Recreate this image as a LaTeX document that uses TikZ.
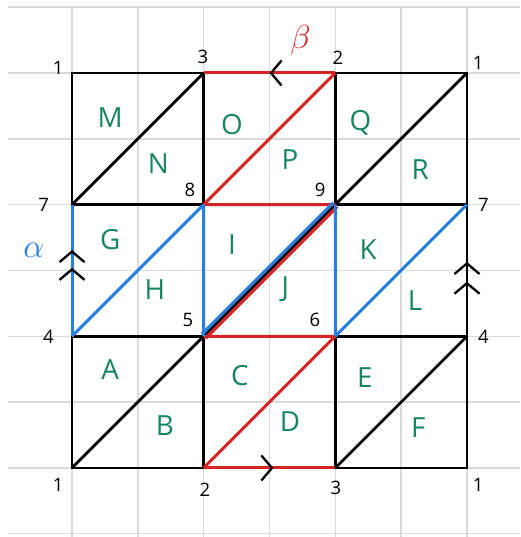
\documentclass[tikz,border=0pt]{standalone}
\usepackage{fontspec}
\setmainfont{Open Sans}
\usetikzlibrary{arrows.meta,decorations.markings}
\definecolor{gridgray}{RGB}{218,218,218}
\definecolor{edgered}{RGB}{214,36,36}
\definecolor{edgeblue}{RGB}{38,126,226}
\definecolor{facegreen}{RGB}{24,134,92}

\begin{document}
\begin{tikzpicture}[
    paper/.style={gridgray, line width=0.6pt},
    edge/.style={line width=1.2pt, black},
    redge/.style={line width=1.3pt, edgered},
    bedge/.style={line width=1.3pt, edgeblue},
    face/.style={font=\large, text=facegreen},
    vlabel/.style={font=\footnotesize},
    chev/.style={postaction={decorate, decoration={markings,
        mark=at position #1 with {\arrow[black]{Straight Barb[length=1.6mm,width=3.8mm,line width=1pt]}}}}},
  ]
    \useasboundingbox (-1.094,-1.049) rectangle (6.808,7.109);
    \fill[white] (-1.094,-1.049) rectangle (6.808,7.109);

    % graph paper
    \foreach \y in {-1,...,7}
      \draw[paper] (-0.97,\y) -- (6.808,\y);
    \foreach \x in {0,...,6}
      \draw[paper] (\x,-1.049) -- (\x,7.0);

    \foreach \i in {0,...,3}
      \foreach \j in {0,...,3}
        \coordinate (v\i\j) at ({2*\i},{2*\j});

    % black squares and diagonals
    \draw[edge] (v00) rectangle (v33);
    \draw[edge] (v10) -- (v13) (v20) -- (v23) (v01) -- (v31) (v02) -- (v32);
    \draw[edge] (v00) -- (v11) (v20) -- (v31) (v02) -- (v13) (v22) -- (v33) (v11) -- (v22);
    \draw[edge, chev=0.415, chev=0.565] (v31) -- (v32);

    % beta
    \draw[redge, chev=0.5] (v23) -- (v13);
    \draw[redge] (v12) -- (v23) (v12) -- (v22) (v11) -- (v21) (v10) -- (v21);
    \draw[redge] ([shift={(0.03,-0.03)}]v11) -- ([shift={(0.03,-0.03)}]v22);
    \draw[redge, chev=0.53] (v10) -- (v20);

    % alpha
    \draw[bedge, chev=0.52, chev=0.655] (v01) -- (v02);
    \draw[bedge] (v01) -- (v12) (v11) -- (v12) (v21) -- (v22) (v21) -- (v32);
    \draw[bedge] ([shift={(-0.03,0.03)}]v11) -- ([shift={(-0.03,0.03)}]v22);

    \node[font=\Large, text=edgered] (beta) at (3.47,6.5) {$\beta$};
    \node[font=\Large, text=edgeblue] (alpha) at (-0.58,3.3) {$\alpha$};

    % vertex numbers
    \node[vlabel] (t1) at (-0.21,6.08) {1};
    \node[vlabel] (t3) at (1.99,6.25) {3};
    \node[vlabel] (t2) at (4.04,6.23) {2};
    \node[vlabel] (t1r) at (6.17,6.16) {1};
    \node[vlabel] (m7) at (-0.43,4.0) {7};
    \node[vlabel] (m8) at (1.79,4.22) {8};
    \node[vlabel] (m9) at (3.77,4.22) {9};
    \node[vlabel] (m7r) at (6.25,4.0) {7};
    \node[vlabel] (m4) at (-0.36,1.99) {4};
    \node[vlabel] (m5) at (1.76,2.25) {5};
    \node[vlabel] (m6) at (3.69,2.25) {6};
    \node[vlabel] (m4r) at (6.25,1.99) {4};
    \node[vlabel] (b1) at (-0.21,-0.26) {1};
    \node[vlabel] (b2) at (2.02,-0.33) {2};
    \node[vlabel] (b3) at (4.01,-0.3) {3};
    \node[vlabel] (b1r) at (6.17,-0.26) {1};

    % triangles
    \node[face] (fM) at (0.58,5.32) {M};
    \node[face] (fN) at (1.31,4.63) {N};
    \node[face] (fO) at (2.43,5.21) {O};
    \node[face] (fP) at (3.31,4.68) {P};
    \node[face] (fQ) at (4.38,5.24) {Q};
    \node[face] (fR) at (5.29,4.53) {R};
    \node[face] (fG) at (0.58,3.47) {G};
    \node[face] (fH) at (1.26,2.71) {H};
    \node[face] (fI) at (2.43,3.40) {I};
    \node[face] (fJ) at (3.24,2.71) {J};
    \node[face] (fK) at (4.50,3.31) {K};
    \node[face] (fL) at (5.21,2.55) {L};
    \node[face] (fA) at (0.58,1.49) {A};
    \node[face] (fB) at (1.41,0.65) {B};
    \node[face] (fC) at (2.55,1.41) {C};
    \node[face] (fD) at (3.31,0.70) {D};
    \node[face] (fE) at (4.45,1.37) {E};
    \node[face] (fF) at (5.26,0.61) {F};
\end{tikzpicture}
\end{document}
